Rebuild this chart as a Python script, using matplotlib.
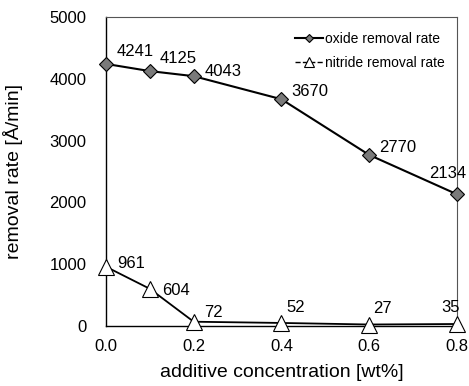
import matplotlib.pyplot as plt

plt.rcParams['font.family'] = ['Liberation Sans', 'DejaVu Sans']

# additive concentration [wt%]
concentration = [0.0, 0.1, 0.2, 0.4, 0.6, 0.8]
# removal rates [Å/min]
oxide_rate = [4241, 4125, 4043, 3670, 2770, 2134]
nitride_rate = [961, 604, 72, 52, 27, 35]

# label offsets in pixels (dx, dy) from each point
oxide_offsets = [(11, 8), (10, 8), (11, 0), (10, 3), (10, 3), (-28, 16)]
nitride_offsets = [(11, -1), (12, -6), (10, 5), (5, 11), (4, 12), (-15, 12)]

fig = plt.figure(figsize=(4.69, 3.86), dpi=100)
ax = fig.add_axes([0.226, 0.155, 0.748, 0.801])

ax.plot(concentration, oxide_rate, color='black', lw=1.5, marker='D',
        markersize=7.5, markerfacecolor='#7a7a7a', markeredgecolor='black',
        markeredgewidth=0.8, clip_on=False, zorder=3,
        label='oxide removal rate')
ax.plot(concentration, nitride_rate, color='black', lw=1.3, marker='^',
        markersize=11, markerfacecolor='white', markeredgecolor='black',
        markeredgewidth=0.8, clip_on=False, zorder=3,
        label='nitride removal rate')

for x, y, (dx, dy) in zip(concentration, oxide_rate, oxide_offsets):
    ax.annotate(str(y), (x, y), xytext=(dx, dy), textcoords='offset pixels',
                ha='left', va='baseline', fontsize=12)
for x, y, (dx, dy) in zip(concentration, nitride_rate, nitride_offsets):
    ax.annotate(str(y), (x, y), xytext=(dx, dy), textcoords='offset pixels',
                ha='left', va='baseline', fontsize=12)

ax.set_xlim(0, 0.8)
ax.set_ylim(0, 5000)
ax.set_xticks([0.0, 0.2, 0.4, 0.6, 0.8])
ax.set_xticklabels(['0.0', '0.2', '0.4', '0.6', '0.8'])
ax.set_yticks([0, 1000, 2000, 3000, 4000, 5000])
ax.tick_params(axis='both', length=0, labelsize=12)
ax.tick_params(axis='x', pad=9)
ax.tick_params(axis='y', pad=14)

for side in ['left', 'bottom']:
    ax.spines[side].set_linewidth(1.0)
for side in ['top', 'right']:
    ax.spines[side].set_color('#555555')
    ax.spines[side].set_linewidth(0.8)

ax.set_xlabel('additive concentration [wt%]', fontsize=14)
ax.set_ylabel('removal rate [Å/min]', fontsize=14)
ax.xaxis.set_label_coords(0.5, -0.123)
ax.yaxis.set_label_coords(-0.237, 0.5)

leg = ax.legend(loc='upper left', bbox_to_anchor=(0.54, 0.952), frameon=False,
                borderaxespad=0, borderpad=0, fontsize=10, markerscale=0.6,
                handlelength=2.0, handletextpad=0.15, labelspacing=0.7)
leg.legend_handles[1].set_linestyle('--')
leg.legend_handles[1].set_linewidth(1.0)

fig.savefig('out.png', dpi=100)
